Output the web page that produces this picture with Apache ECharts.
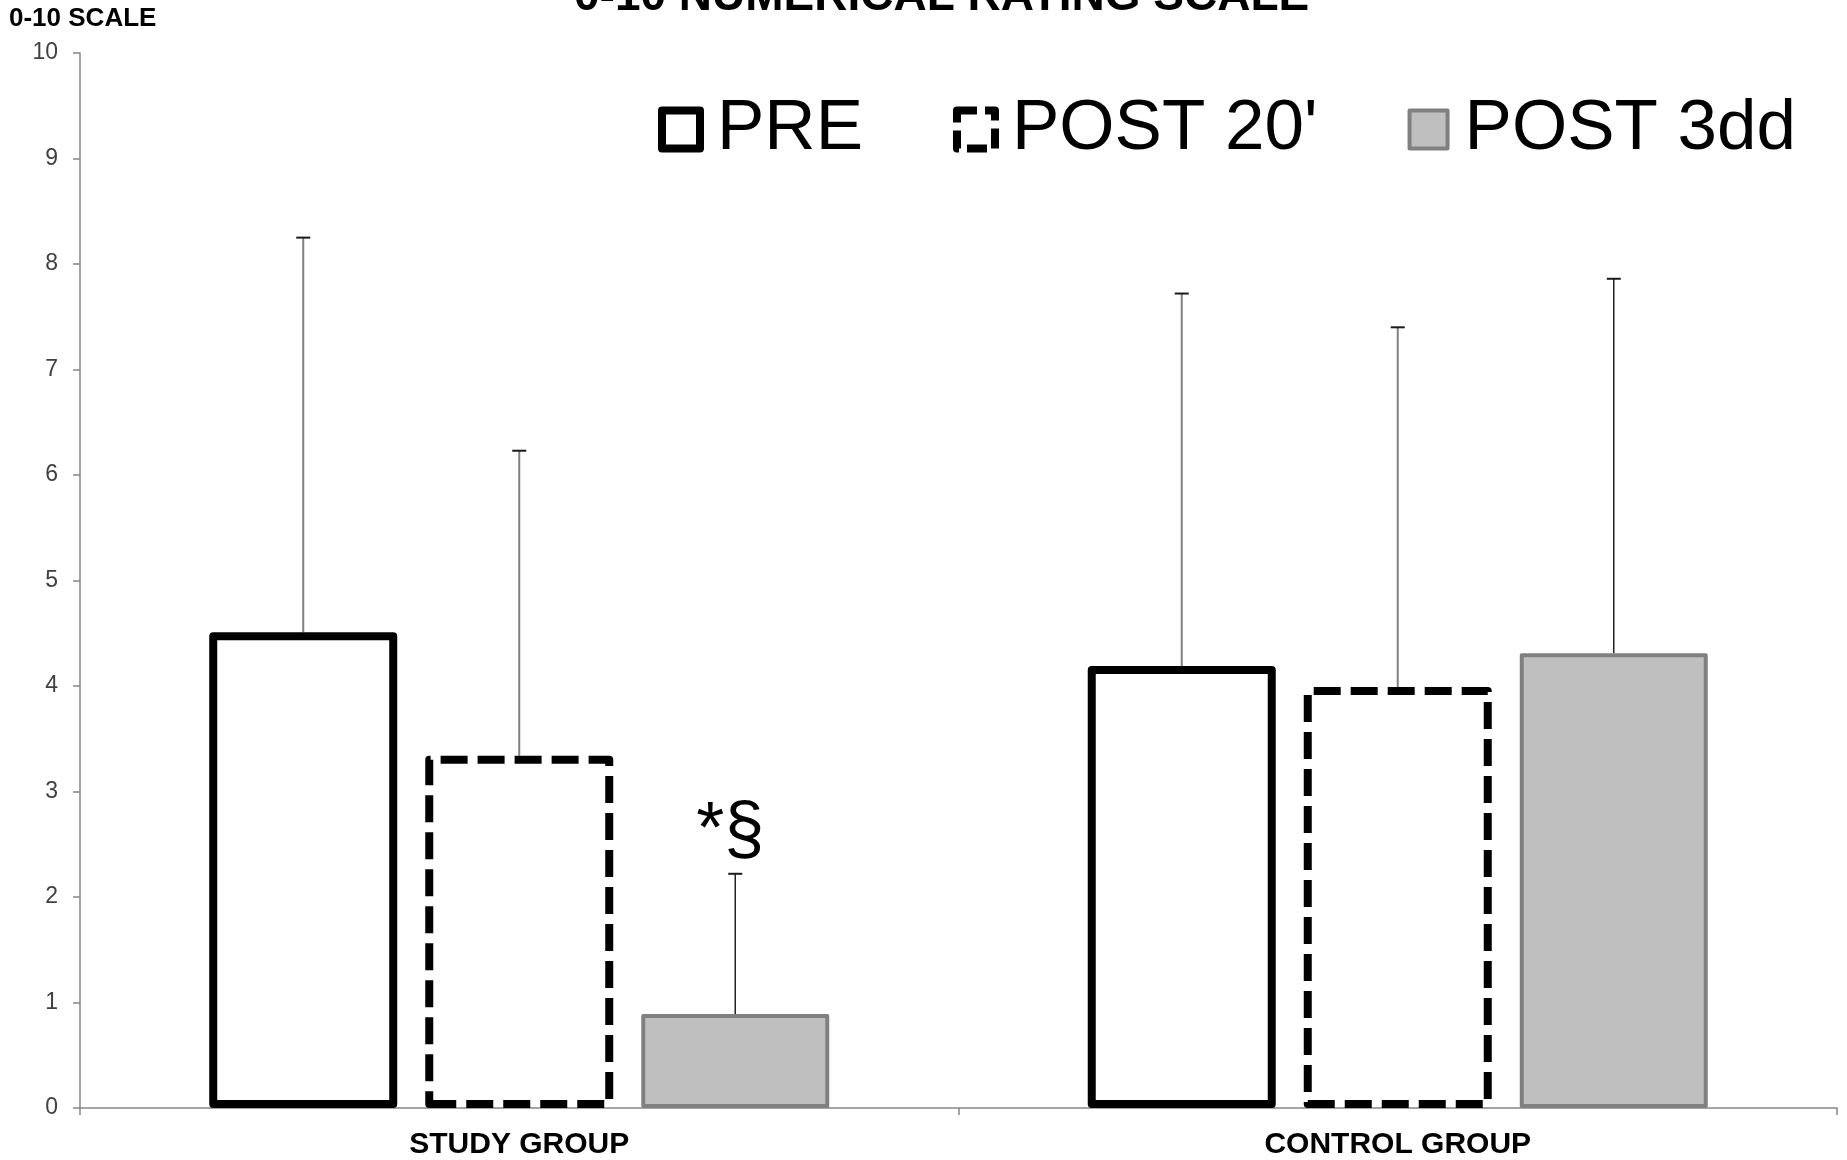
<!DOCTYPE html>
<html><head><meta charset="utf-8">
<script src="https://cdn.jsdelivr.net/npm/echarts@6/dist/echarts.min.js"></script>
<style>html,body{margin:0;padding:0;background:#fff}#c{width:1847px;height:1160px}</style>
</head><body><div id="c"></div>
<script>
// ---- data ----
const categories = ['STUDY GROUP', 'CONTROL GROUP'];
const seriesNames = ['PRE', "POST 20'", 'POST 3dd'];
const preMean = [4.51, 4.19];
const post20Mean = [3.34, 3.99];
const post3ddMean = [0.89, 4.31];
const preUpper = [8.25, 7.72];
const post20Upper = [6.23, 7.40];
const post3ddUpper = [2.22, 7.86];
const post3ddMarks = ['*§', ''];
const yMin = 0, yMax = 10, yStep = 1;

// ---- styling ----
const FONT = '"Liberation Sans", Arial, sans-serif';
const BAR_FRAC = 0.214, GAP_FRAC = 0.149;

function errorSeries(idx, upper, means, lineColor, lineWidth, marks) {
  return {
    type: 'custom',
    z: 1,
    silent: true,
    data: categories.map((c, i) => [i, upper[i], means[i]]),
    encode: { x: 0, y: 1 },
    renderItem: function (params, api) {
      const ci = api.value(0), top = api.value(1), base = api.value(2);
      const catW = api.size([1, 0])[0];
      const bw = catW * BAR_FRAC;
      const step = bw * (1 + GAP_FRAC);
      const pt = api.coord([ci, top]);
      const pb = api.coord([ci, base]);
      const x = pt[0] + (idx - 1) * step;
      const children = [
        { type: 'line', shape: { x1: x, y1: pb[1], x2: x, y2: pt[1] },
          style: { stroke: lineColor, lineWidth: lineWidth } },
        { type: 'line', shape: { x1: x - 7, y1: pt[1], x2: x + 7, y2: pt[1] },
          style: { stroke: '#1a1a1a', lineWidth: 2 } }
      ];
      const m = marks ? marks[params.dataIndex] : '';
      if (m) {
        children.push({ type: 'text', style: { text: m, x: x - 5, y: pt[1] - 6,
          align: 'center', verticalAlign: 'bottom', fontSize: 72, fontFamily: FONT, fill: '#000' } });
      }
      return { type: 'group', children: children };
    }
  };
}

const chart = echarts.init(document.getElementById('c'), null, { renderer: 'canvas' });
chart.setOption({
  animation: false,
  backgroundColor: '#fff',
  title: [
    { text: '0-10 NUMERICAL RATING SCALE', left: 574, top: -26, padding: 0,
      textStyle: { fontSize: 46, fontWeight: 'bold', color: '#000', fontFamily: FONT } },
    { text: '0-10 SCALE', left: 9, top: 6, padding: 0,
      textStyle: { fontSize: 26, fontWeight: 'bold', color: '#000', fontFamily: FONT } }
  ],
  legend: {
    left: 658, top: 94, padding: 0,
    icon: 'rect', itemWidth: 38, itemHeight: 38, itemGap: 90,
    selectedMode: false,
    textStyle: { fontSize: 71, color: '#000', fontFamily: FONT, padding: [0, 0, 0, 12] },
    data: [
      { name: seriesNames[0], itemStyle: { color: '#fff', borderColor: '#000', borderWidth: 8, borderJoin: 'round' } },
      { name: seriesNames[1], itemStyle: { color: '#fff', borderColor: '#000', borderWidth: 8, borderType: [20, 8] } },
      { name: seriesNames[2], itemStyle: { color: '#bfbfbf', borderColor: '#808080', borderWidth: 4 } }
    ]
  },
  grid: { left: 80, right: 10, top: 53, bottom: 52, containLabel: false, outerBoundsMode: 'none' },
  xAxis: {
    type: 'category', data: categories,
    axisLine: { show: true, lineStyle: { color: '#868686', width: 1.5 } },
    axisTick: { show: true, length: 7, interval: 0, lineStyle: { color: '#868686', width: 1.5 } },
    axisLabel: { fontSize: 30, fontWeight: 'bold', color: '#000', margin: 22, fontFamily: FONT, interval: 0 },
    splitLine: { show: false }
  },
  yAxis: {
    type: 'value', min: yMin, max: yMax, interval: yStep,
    axisLine: { show: true, lineStyle: { color: '#868686', width: 1.5 } },
    axisTick: { show: true, length: 7, lineStyle: { color: '#868686', width: 1.5 } },
    axisLabel: { fontSize: 23, color: '#404040', margin: 22, fontFamily: FONT },
    splitLine: { show: false }
  },
  series: [
    { type: 'bar', name: seriesNames[0], data: preMean, z: 2,
      barWidth: (BAR_FRAC * 100) + '%', barGap: (GAP_FRAC * 100) + '%',
      itemStyle: { color: '#fff', borderColor: '#000', borderWidth: 8, borderJoin: 'round' },
      emphasis: { disabled: true } },
    { type: 'bar', name: seriesNames[1], data: post20Mean, z: 2,
      barWidth: (BAR_FRAC * 100) + '%', barGap: (GAP_FRAC * 100) + '%',
      itemStyle: { color: '#fff', borderColor: '#000', borderWidth: 8, borderType: [27, 10], borderJoin: 'round' },
      emphasis: { disabled: true } },
    { type: 'bar', name: seriesNames[2], data: post3ddMean, z: 2,
      barWidth: (BAR_FRAC * 100) + '%', barGap: (GAP_FRAC * 100) + '%',
      itemStyle: { color: '#bfbfbf', borderColor: '#808080', borderWidth: 4, borderJoin: 'round' },
      emphasis: { disabled: true } },
    errorSeries(0, preUpper, preMean, '#808080', 2, null),
    errorSeries(1, post20Upper, post20Mean, '#808080', 2, null),
    errorSeries(2, post3ddUpper, post3ddMean, '#222', 1.5, post3ddMarks)
  ]
});
</script>
</body></html>
